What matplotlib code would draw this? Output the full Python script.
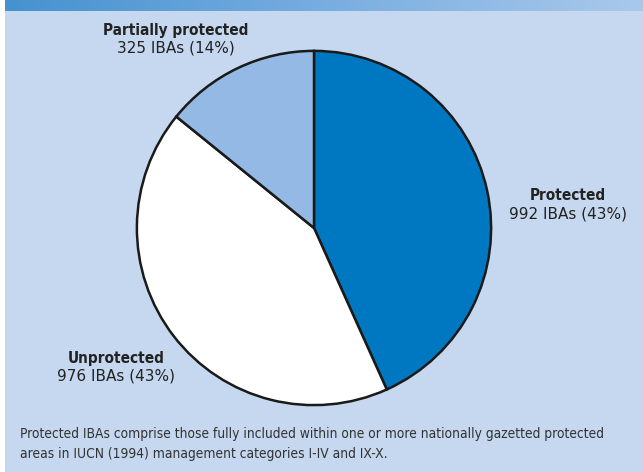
import matplotlib
matplotlib.use('Agg')
import matplotlib.pyplot as plt
import numpy as np
from matplotlib.colors import LinearSegmentedColormap

labels = ['Protected', 'Unprotected', 'Partially protected']
counts = [992, 976, 325]
percents = [43, 43, 14]
colors = ['#0078c1', '#ffffff', '#93b9e4']

note = ('Protected IBAs comprise those fully included within one or more nationally gazetted protected\n'
        'areas in IUCN (1994) management categories I-IV and IX-X.')

W, H = 643, 472
fig = plt.figure(figsize=(W / 100, H / 100), dpi=100)
fig.patch.set_facecolor('white')

def fx(px):
    return px / W

def fy(py):
    return 1 - py / H

# background panel
bg = fig.add_axes([fx(5), 0, 1 - fx(5), fy(11)], zorder=-2)
bg.set_facecolor('#c5d8ef')
bg.set_xticks([])
bg.set_yticks([])
for s in bg.spines.values():
    s.set_visible(False)

# banner with gradient
bax = fig.add_axes([fx(5), fy(11), 1 - fx(5), 11 / H])
grad = np.linspace(0, 1, 256).reshape(1, -1)
cm = LinearSegmentedColormap.from_list('ban', ['#4592cf', '#78ade0', '#a9c9eb'])
bax.imshow(grad, aspect='auto', cmap=cm)
bax.axis('off')

# pie
cx, cy, r = 314, 228, 178
ax = fig.add_axes([fx(cx - r), fy(cy + r), 2 * r / W, 2 * r / H], zorder=1)
ax.pie(counts, colors=colors, startangle=90, counterclock=False,
       wedgeprops=dict(edgecolor='#1a1a1a', linewidth=1.8))
ax.set_xlim(-1.005, 1.005)
ax.set_ylim(-1.005, 1.005)
ax.set_aspect('auto')
ax.axis('off')

pos = {'Protected': (568, 196), 'Unprotected': (116, 358), 'Partially protected': (176, 30)}
for lab, n, p in zip(labels, counts, percents):
    x, y = pos[lab]
    fig.text(fx(x), fy(y), lab, ha='center', va='center', fontsize=11,
             fontweight='bold', color='#222222', family='DejaVu Sans', stretch='condensed')
    fig.text(fx(x), fy(y + 18), '%d IBAs (%d%%)' % (n, p), ha='center', va='center',
             fontsize=11, color='#222222', family='DejaVu Sans')

fig.text(fx(20), fy(444), note, ha='left', va='center', fontsize=9.9,
         color='#333333', family='DejaVu Sans', stretch='condensed', linespacing=1.55)

fig.savefig('out.png', dpi=100)
